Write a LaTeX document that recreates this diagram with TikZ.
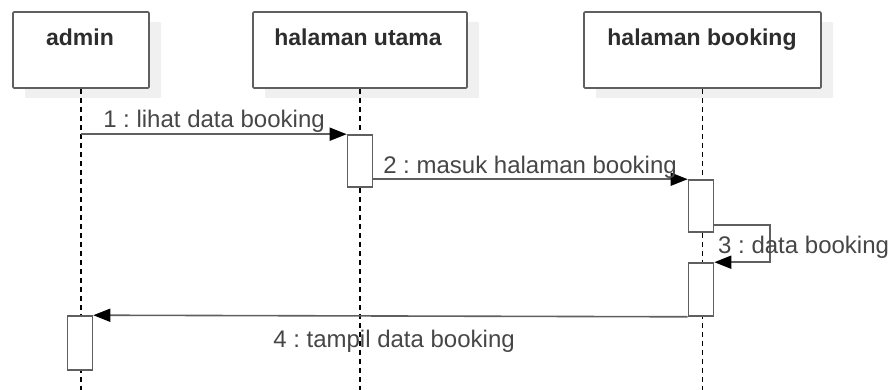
\documentclass[tikz,border=0pt]{standalone}
\usepackage{fontspec}
\setmainfont{Liberation Sans}
\usetikzlibrary{arrows.meta,shadows,positioning}
\definecolor{linegrey}{RGB}{95,95,95}
\definecolor{textgrey}{RGB}{70,70,70}
\definecolor{headgrey}{RGB}{45,45,45}
\definecolor{shadowgrey}{RGB}{240,240,240}
\frenchspacing

\begin{document}
\begin{tikzpicture}
  [x=1pt,y=-1pt,
   actor/.style={draw=linegrey,line width=1.6pt,fill=white,rounded corners=1pt,minimum height=76pt,
     drop shadow={shadow xshift=12pt,shadow yshift=-10pt,fill=shadowgrey,opacity=1}},
   actorname/.style={anchor=base,text=headgrey,inner sep=0pt,font=\fontsize{23}{28}\selectfont\bfseries},
   act/.style={draw=linegrey,line width=1.6pt,fill=white,minimum width=25pt,inner sep=0pt},
   msg/.style={draw=linegrey,line width=1.6pt,-{Triangle[length=17pt,width=13pt,color=black]}},
   msgtext/.style={anchor=base,text=textgrey,inner sep=0pt,font=\fontsize{24}{28}\selectfont},
   lifeline/.style={draw=black,line width=1.4pt,dash pattern=on 5pt off 4pt}]
  \useasboundingbox (0,0) rectangle (893,390);

  \node[actor,minimum width=136pt] (admin) at (81,50) {};
  \node[actor,minimum width=214pt] (utama) at (360,50) {};
  \node[actor,minimum width=237pt] (booking) at (702.5,50) {};
  \node[actorname] (adminName) at (80,46) {admin};
  \node[actorname] (utamaName) at (358,46) {halaman utama};
  \node[actorname] (bookingName) at (702,46) {halaman booking};

  \foreach \who in {admin,utama,booking}
    {
      \coordinate (\who-end) at (\who.south |- 0,392);
      \draw[lifeline] (\who.south) -- (\who-end);
    }

  \node[act,minimum height=52pt] (act1) at (360,161) {};
  \node[act,minimum height=52pt] (act2) at (701,206) {};
  \node[act,minimum height=53pt] (act3) at (701,289.5) {};
  \node[act,minimum height=54pt] (act4) at (80,343) {};
  \coordinate (loop) at (770,245);

  \draw[msg] (admin.south |- act1.north) -- (act1.north west);
  \draw[msg] (act1.east |- act2.north) -- (act2.north west);
  \draw[msg] (act2.east |- 0,225) -- (loop |- 0,225) -- (loop |- act3.north) -- (act3.north east);
  \draw[msg] (act3.south west) -- (act4.north east);

  \node[msgtext] (lbl1) at (214,128) {1 : lihat data booking};
  \node[msgtext] (lbl2) at (530,173) {2 : masuk halaman booking};
  \node[msgtext,anchor=base west] (lbl3) at (718,253) {3 : data booking};
  \node[msgtext] (lbl4) at (394,347) {4 : tampil data booking};
\end{tikzpicture}
\end{document}
